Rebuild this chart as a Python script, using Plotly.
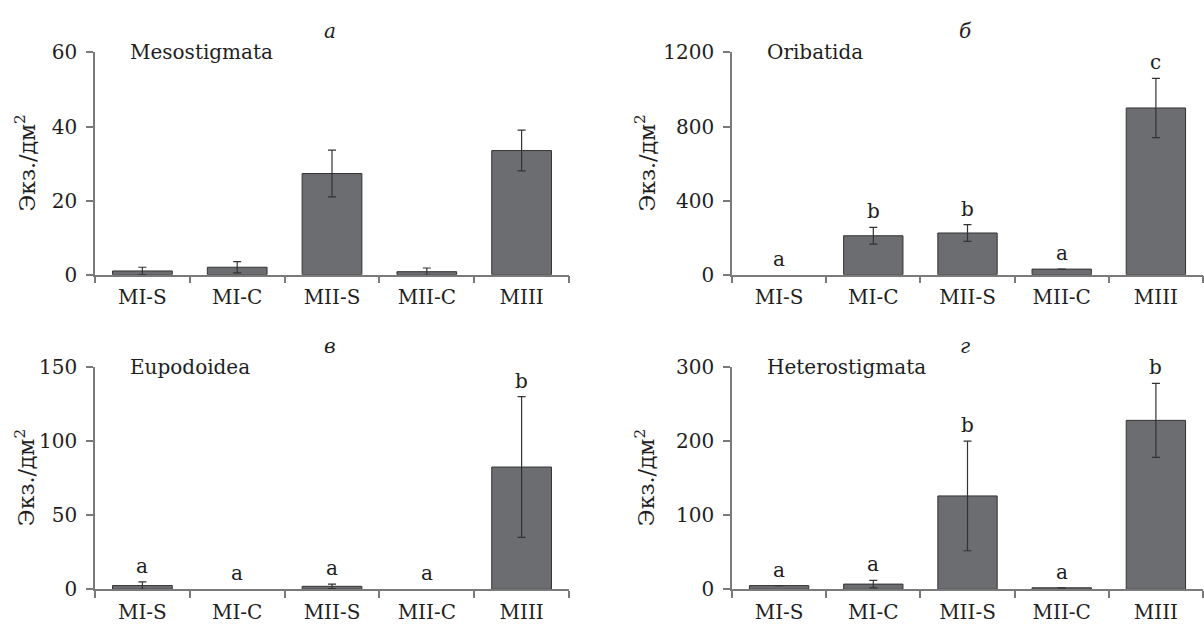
import plotly.graph_objects as go

categories = ["MI-S", "MI-C", "MII-S", "MII-C", "MIII"]

meso_vals = [1.0, 2.0, 27.3, 0.8, 33.5]
meso_err = [1.0, 1.5, 6.3, 1.0, 5.5]
meso_letters = ["", "", "", "", ""]

orib_vals = [0, 210, 225, 30, 900]
orib_err = [None, 45, 45, None, 160]
orib_letters = ["a", "b", "b", "a", "c"]

eupo_vals = [2.5, 0, 2.0, 0, 82.5]
eupo_err = [2.5, None, 1.5, None, 47.5]
eupo_letters = ["a", "a", "a", "a", "b"]

hete_vals = [5, 7, 126, 2, 228]
hete_err = [None, 5, 74, None, 50]
hete_letters = ["a", "a", "b", "a", "b"]

panels = [
    ("а", "Mesostigmata", meso_vals, meso_err, meso_letters, [0, 60], [0, 20, 40, 60]),
    ("б", "Oribatida", orib_vals, orib_err, orib_letters, [0, 1200], [0, 400, 800, 1200]),
    ("в", "Eupodoidea", eupo_vals, eupo_err, eupo_letters, [0, 150], [0, 50, 100, 150]),
    ("г", "Heterostigmata", hete_vals, hete_err, hete_letters, [0, 300], [0, 100, 200, 300]),
]

W, H = 1204, 634
FONT = "DejaVu Serif"
FS = 20
BAR = "#6c6d71"
DARK = "#333333"
AXC = "#7a7a7a"
TXT = "#1e1e1e"

# pixel layout (left, right, top, bottom, y-title x)
boxes = [
    (95, 569, 42, 273, 25),
    (732, 1203, 42, 273, 645),
    (95, 569, 369, 600, 25),
    (732, 1203, 369, 600, 645),
]

fig = go.Figure()
annotations = []
layout = {}
for i, (lab, name, vals, errs, letters, yr, ticks) in enumerate(panels):
    n = i + 1
    xa = "x" if n == 1 else f"x{n}"
    ya = "y" if n == 1 else f"y{n}"
    l, r, t, b, tx = boxes[i]
    xd = [l / W, r / W]
    yd = [1 - b / H, 1 - t / H]
    fig.add_trace(go.Bar(
        x=categories, y=[v if v else None for v in vals], xaxis=xa, yaxis=ya,
        marker=dict(color=BAR, line=dict(color=DARK, width=1)),
        width=0.63,
        error_y=dict(type="data", array=errs, visible=True,
                     color=DARK, thickness=1.2, width=4),
        showlegend=False, hoverinfo="skip",
    ))
    layout["xaxis" if n == 1 else f"xaxis{n}"] = dict(
        domain=xd, anchor=ya, range=[-0.5, 4.5], type="category",
        showline=True, linecolor=AXC, linewidth=1.5,
        ticks="outside", tickson="boundaries", ticklen=7, tickcolor=AXC,
        tickwidth=1.5, tickfont=dict(family=FONT, size=FS, color=TXT),
        ticklabelstandoff=4, showgrid=False, zeroline=False, fixedrange=True,
    )
    layout["yaxis" if n == 1 else f"yaxis{n}"] = dict(
        domain=yd, anchor=xa, range=yr, tickvals=ticks,
        showline=True, linecolor=AXC, linewidth=1.5,
        ticks="outside", ticklen=7, tickcolor=AXC, tickwidth=1.5,
        tickfont=dict(family=FONT, size=FS, color=TXT),
        ticklabelstandoff=5, showgrid=False, zeroline=False, fixedrange=True,
    )
    # panel letter
    annotations.append(dict(
        x=(l + r) / 2 / W - 0.002, y=1 - (t - 22) / H,
        xref="paper", yref="paper", text=f"<i>{lab}</i>", showarrow=False,
        font=dict(family=FONT, size=FS, color=TXT), xanchor="center", yanchor="middle",
    ))
    # taxon name
    annotations.append(dict(
        x=(l + 33) / W, y=yd[1], xref="paper", yref="paper", text=name,
        showarrow=False, font=dict(family=FONT, size=FS, color=TXT),
        xanchor="left", yanchor="middle",
    ))
    # y title
    annotations.append(dict(
        x=tx / W, y=(yd[0] + yd[1]) / 2, xref="paper", yref="paper",
        text="Экз./дм<sup>2</sup>", textangle=-90, showarrow=False,
        font=dict(family=FONT, size=22, color=TXT),
        xanchor="center", yanchor="middle",
    ))
    # significance letters
    for c, v, e, s in zip(categories, vals, errs, letters):
        if not s:
            continue
        top = v + (e or 0)
        annotations.append(dict(
            x=c, y=top, xref=xa, yref=ya, text=s, showarrow=False,
            font=dict(family=FONT, size=FS, color=TXT),
            xanchor="center", yanchor="bottom", yshift=2,
        ))

fig.update_layout(
    width=W, height=H, margin=dict(l=0, r=0, t=0, b=0),
    paper_bgcolor="white", plot_bgcolor="white",
    annotations=annotations, bargap=0.37, **layout,
)
fig.write_html("out.html")
